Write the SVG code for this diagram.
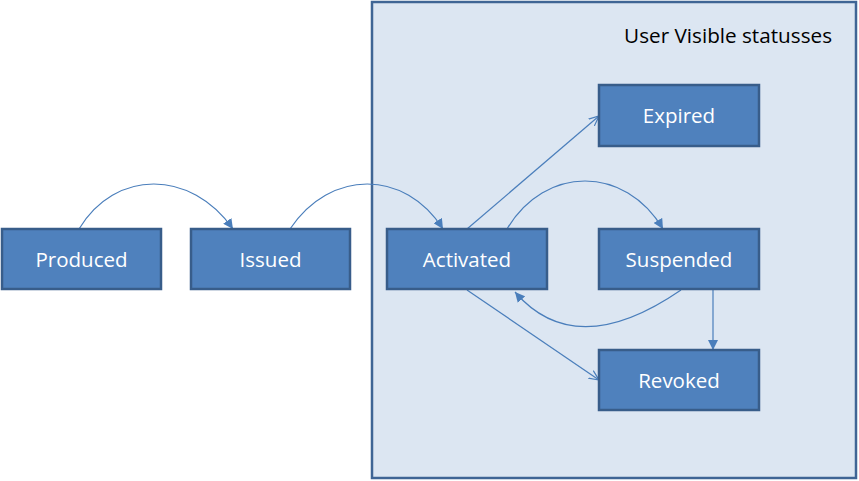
<svg xmlns="http://www.w3.org/2000/svg" width="859" height="481" viewBox="0 0 859 481">
<defs>
<style>
.node rect{fill:#4f81bd;stroke:#385d8a;stroke-width:2.5}
.node text{fill:#ffffff;font-family:"Open Sans","Liberation Sans",sans-serif;font-size:20.5px;text-anchor:middle}
.edge{fill:none;stroke:#4a7ebb;stroke-width:1.2}
</style>
<marker id="fa" viewBox="0 0 10 10" refX="10" refY="5" markerWidth="10" markerHeight="10" markerUnits="userSpaceOnUse" orient="auto">
<path d="M0,0 L10,5 L0,10 Z" fill="#4a7ebb"/>
</marker>
<marker id="oa" viewBox="0 0 10 10" refX="10" refY="5" markerWidth="10" markerHeight="10" markerUnits="userSpaceOnUse" orient="auto">
<path d="M0,0.5 L10,5 L0,9.5" fill="none" stroke="#4a7ebb" stroke-width="1.2"/>
</marker>
</defs>
<rect width="859" height="481" fill="#ffffff"/>
<g id="container">
<rect x="372" y="2" width="484" height="476" fill="#dce6f2" stroke="#3f6595" stroke-width="2.5"/>
<text x="832" y="43" font-family="'Open Sans','Liberation Sans',sans-serif" font-size="20.7" text-anchor="end" fill="#000000">User Visible statusses</text>
</g>
<g id="connectors">
<path class="edge" d="M79,229 C115,169 191,169 233,229" marker-end="url(#fa)"/>
<path class="edge" d="M290,229 C330,169 405,169 443,229" marker-end="url(#fa)"/>
<path class="edge" d="M467,229 L599,116" marker-end="url(#oa)"/>
<path class="edge" d="M507,229 C545,165 625,165 663,229" marker-end="url(#fa)"/>
<path class="edge" d="M681,290 C630,325 565,350 515,292" marker-end="url(#fa)"/>
<path class="edge" d="M467,290 L599,380" marker-end="url(#oa)"/>
<path class="edge" d="M713,290 L713,350" marker-end="url(#fa)"/>
</g>
<g id="produced" class="node"><rect x="2" y="229" width="159" height="60"/><text x="81.5" y="267">Produced</text></g>
<g id="issued" class="node"><rect x="191" y="229" width="159" height="60"/><text x="270.5" y="267">Issued</text></g>
<g id="activated" class="node"><rect x="387" y="229" width="160" height="60"/><text x="467" y="267">Activated</text></g>
<g id="suspended" class="node"><rect x="599" y="229" width="160" height="60"/><text x="679" y="267">Suspended</text></g>
<g id="expired" class="node"><rect x="599" y="85" width="160" height="61"/><text x="679" y="123">Expired</text></g>
<g id="revoked" class="node"><rect x="599" y="350" width="160" height="60"/><text x="679" y="388">Revoked</text></g>
</svg>
